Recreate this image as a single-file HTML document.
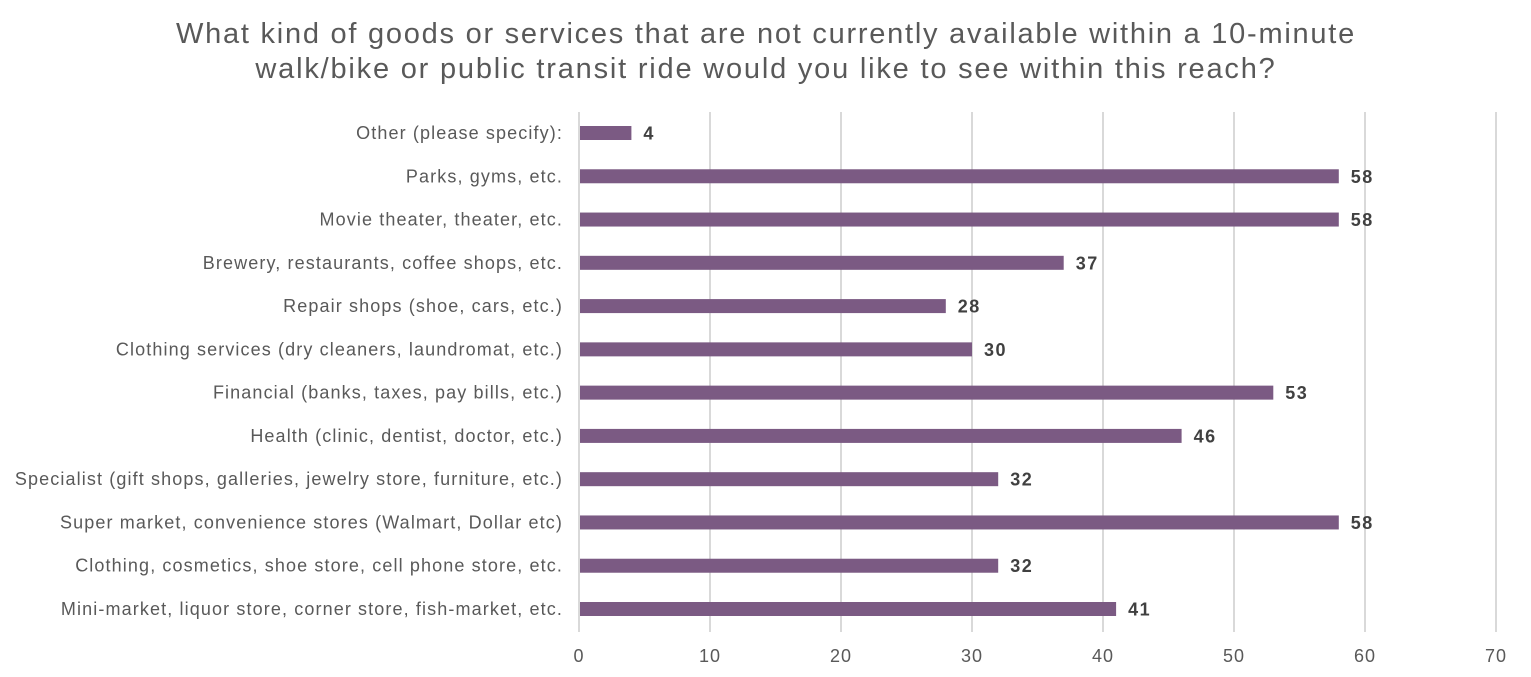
<!DOCTYPE html>
<html><head><meta charset="utf-8"><style>
html,body{margin:0;padding:0;background:#fff;}
svg{display:block;font-family:"Liberation Sans",sans-serif;}
</style></head><body>
<svg id="chart" width="1531" height="677" xmlns="http://www.w3.org/2000/svg">
<text x="766" y="43" text-anchor="middle" font-size="29" letter-spacing="1.75" fill="#595959">What kind of goods or services that are not currently available within a 10-minute</text>
<text x="766" y="78" text-anchor="middle" font-size="29" letter-spacing="1.8" fill="#595959">walk/bike or public transit ride would you like to see within this reach?</text>
<g id="grid"></g><g id="bars"></g><g id="labels"></g>
</svg>
<script>
const categories=["Other (please specify):","Parks, gyms, etc.","Movie theater, theater, etc.","Brewery, restaurants, coffee shops, etc.","Repair shops (shoe, cars, etc.)","Clothing services (dry cleaners, laundromat, etc.)","Financial (banks, taxes, pay bills, etc.)","Health (clinic, dentist, doctor, etc.)","Specialist (gift shops, galleries, jewelry store, furniture, etc.)","Super market, convenience stores (Walmart, Dollar etc)","Clothing, cosmetics, shoe store, cell phone store, etc.","Mini-market, liquor store, corner store, fish-market, etc."];
const values=[4,58,58,37,28,30,53,46,32,58,32,41];
const ticks=[0,10,20,30,40,50,60,70];
const NS="http://www.w3.org/2000/svg";
const x0=579,xMax=1496,vMax=70;
const xs=v=>x0+(v/vMax)*(xMax-x0);
const y0=133,y1=609;
const ys=i=>y0+i*(y1-y0)/(categories.length-1);
function mk(t,a,p){const e=document.createElementNS(NS,t);for(const k in a)e.setAttribute(k,a[k]);p.appendChild(e);return e;}
const grid=document.getElementById('grid'),bars=document.getElementById('bars'),labels=document.getElementById('labels');
ticks.forEach(t=>{
 const l=mk('line',{x1:xs(t),x2:xs(t),y1:112,y2:632,stroke:'#d9d9d9','stroke-width':2},grid);
 
 
 const tx=mk('text',{x:xs(t),y:662,'text-anchor':'middle','font-size':18,'letter-spacing':1,fill:'#595959'},grid);
 tx.textContent=t;
 
 
});
categories.forEach((c,i)=>{
 const y=ys(i);
 const r=mk('rect',{x:xs(0)+1,y:y-7,width:xs(values[i])-xs(0)-1,height:14,fill:'#7b5a83'},bars);
 
 
 const v=mk('text',{x:xs(values[i])+12,y:y+6.5,'font-size':18,'font-weight':'bold','letter-spacing':1.5,fill:'#404040'},labels);
 v.textContent=values[i];
 
 
 const t=mk('text',{x:563,y:y+6,'text-anchor':'end','font-size':18,'letter-spacing':1.12,fill:'#595959'},labels);
 t.textContent=c;
 
 
});
</script>
</body></html>
